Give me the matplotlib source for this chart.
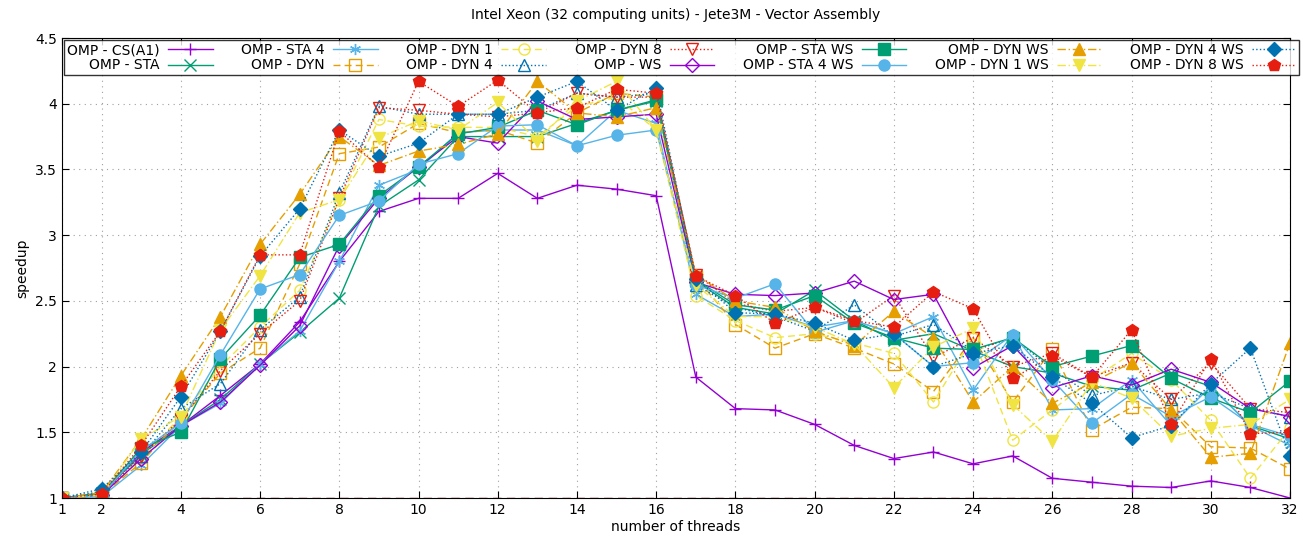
import matplotlib
matplotlib.use("Agg")
import matplotlib.pyplot as plt

threads = list(range(1, 33))

cs_a1 = [1.00, 1.02, 1.35, 1.55, 1.78, 2.02, 2.34, 2.80, 3.18, 3.28, 3.28, 3.47, 3.28, 3.38, 3.35, 3.30,
         1.92, 1.68, 1.67, 1.56, 1.40, 1.30, 1.35, 1.26, 1.32, 1.15, 1.12, 1.09, 1.08, 1.13, 1.08, 1.00]
sta = [1.00, 1.04, 1.33, 1.55, 1.75, 2.02, 2.26, 2.52, 3.22, 3.42, 3.75, 3.75, 3.75, 3.85, 3.95, 4.02,
       2.65, 2.45, 2.40, 2.58, 2.35, 2.20, 2.25, 2.12, 2.00, 1.95, 1.85, 1.82, 1.95, 1.85, 1.55, 1.45]
sta4 = [1.00, 1.01, 1.25, 1.55, 1.72, 2.02, 2.27, 2.80, 3.38, 3.50, 3.78, 3.80, 3.80, 3.68, 3.95, 3.85,
        2.55, 2.38, 2.40, 2.30, 2.35, 2.25, 2.38, 1.82, 2.25, 1.67, 1.68, 1.90, 1.55, 1.85, 1.55, 1.40]
dyn = [1.00, 1.02, 1.27, 1.60, 1.95, 2.14, 2.78, 3.62, 3.67, 3.85, 3.78, 3.80, 3.70, 3.93, 4.08, 4.05,
       2.68, 2.32, 2.14, 2.25, 2.14, 2.02, 1.81, 2.22, 1.73, 2.13, 1.52, 1.69, 1.68, 1.39, 1.38, 1.22]
dyn1 = [1.00, 1.02, 1.30, 1.62, 2.00, 2.30, 2.58, 3.27, 3.88, 3.83, 3.82, 3.82, 3.75, 3.98, 4.05, 3.80,
        2.54, 2.35, 2.22, 2.25, 2.18, 2.10, 1.73, 2.22, 1.44, 1.67, 1.90, 2.10, 1.90, 1.59, 1.15, 1.53]
dyn4 = [1.00, 1.05, 1.32, 1.68, 1.87, 2.28, 2.53, 3.32, 3.98, 3.92, 3.92, 3.92, 3.95, 4.08, 4.05, 4.08,
        2.62, 2.45, 2.38, 2.27, 2.47, 2.23, 2.32, 2.12, 2.22, 1.98, 1.78, 1.85, 1.75, 1.80, 1.68, 1.62]
dyn8 = [1.00, 1.02, 1.32, 1.60, 1.97, 2.25, 2.50, 3.28, 3.97, 3.95, 3.92, 3.90, 3.93, 4.08, 4.05, 4.05,
        2.70, 2.48, 2.42, 2.45, 2.33, 2.54, 2.07, 2.22, 2.00, 2.10, 1.92, 2.03, 1.75, 2.03, 1.68, 1.65]
ws = [1.00, 1.02, 1.30, 1.55, 1.73, 2.01, 2.31, 2.92, 3.28, 3.52, 3.75, 3.70, 4.02, 3.88, 3.90, 3.92,
      2.64, 2.55, 2.54, 2.56, 2.65, 2.51, 2.55, 1.99, 2.16, 1.84, 1.93, 1.86, 1.98, 1.88, 1.68, 1.62]
sta_ws = [1.00, 1.03, 1.38, 1.50, 2.06, 2.39, 2.83, 2.93, 3.30, 3.52, 3.77, 3.82, 3.95, 3.84, 3.95, 4.03,
          2.66, 2.47, 2.43, 2.54, 2.33, 2.22, 2.14, 2.13, 2.22, 2.00, 2.08, 2.16, 1.91, 1.76, 1.65, 1.89]
sta4_ws = [1.00, 1.02, 1.36, 1.57, 2.09, 2.59, 2.70, 3.15, 3.26, 3.54, 3.62, 3.83, 3.84, 3.68, 3.76, 3.80,
           2.62, 2.52, 2.63, 2.26, 2.35, 2.25, 2.00, 2.03, 2.24, 1.90, 1.57, 1.79, 1.62, 1.77, 1.56, 1.47]
dyn_ws = [1.00, 1.04, 1.45, 1.93, 2.38, 2.93, 3.31, 3.75, 3.53, 3.64, 3.69, 3.77, 4.17, 3.93, 3.90, 3.97,
          2.70, 2.50, 2.45, 2.27, 2.16, 2.42, 2.22, 1.73, 2.00, 1.72, 1.88, 2.03, 1.67, 1.31, 1.34, 2.18]
dyn1_ws = [1.00, 1.02, 1.45, 1.62, 2.28, 2.69, 3.17, 3.27, 3.74, 3.87, 3.80, 4.01, 3.72, 4.02, 4.17, 3.80,
           2.62, 2.38, 2.38, 2.30, 2.17, 1.84, 2.15, 2.29, 1.71, 1.43, 1.88, 1.76, 1.47, 1.53, 1.56, 1.75]
dyn4_ws = [1.00, 1.07, 1.35, 1.77, 2.27, 2.84, 3.20, 3.80, 3.60, 3.70, 3.92, 3.92, 4.05, 4.17, 3.95, 4.12,
           2.67, 2.41, 2.40, 2.33, 2.20, 2.25, 2.00, 2.10, 2.16, 1.92, 1.72, 1.46, 1.55, 1.87, 2.14, 1.32]
dyn8_ws = [1.00, 1.03, 1.40, 1.85, 2.27, 2.85, 2.85, 3.79, 3.52, 4.17, 3.98, 4.18, 3.93, 3.97, 4.11, 4.08,
           2.69, 2.54, 2.33, 2.45, 2.35, 2.30, 2.57, 2.44, 1.91, 2.08, 1.92, 2.28, 1.56, 2.06, 1.49, 1.50]

PURPLE, GREEN, LBLUE, ORANGE = "#9400d3", "#009e73", "#56b4e9", "#e69f00"
YELLOW, BLUE, RED = "#f0e442", "#0072b2", "#e51e10"
asterisk = (6, 2, 0)

# (label, values, colour, linestyle, marker, filled)
series = [
    ("OMP - CS(A1)", cs_a1, PURPLE, "-", "+", False),
    ("OMP - STA", sta, GREEN, "-", "x", False),
    ("OMP - STA 4", sta4, LBLUE, "-", asterisk, False),
    ("OMP - DYN", dyn, ORANGE, (0, (5, 3)), "s", False),
    ("OMP - DYN 1", dyn1, YELLOW, (0, (5, 3)), "o", False),
    ("OMP - DYN 4", dyn4, BLUE, ":", "^", False),
    ("OMP - DYN 8", dyn8, RED, ":", "v", False),
    ("OMP - WS", ws, PURPLE, "-", "D", False),
    ("OMP - STA WS", sta_ws, GREEN, "-", "s", True),
    ("OMP - STA 4 WS", sta4_ws, LBLUE, "-", "o", True),
    ("OMP - DYN WS", dyn_ws, ORANGE, (0, (6, 2, 1, 2)), "^", True),
    ("OMP - DYN 1 WS", dyn1_ws, YELLOW, (0, (6, 2, 1, 2)), "v", True),
    ("OMP - DYN 4 WS", dyn4_ws, BLUE, ":", "D", True),
    ("OMP - DYN 8 WS", dyn8_ws, RED, ":", "p", True),
]

fig = plt.figure(figsize=(13.03, 5.40), dpi=100)
ax = fig.add_axes([62 / 1303, 1 - 498 / 540, (1290 - 62) / 1303, (498 - 38) / 540])

for label, vals, color, ls, marker, filled in series:
    size = 7 if marker == "D" else 8
    if marker == "p":
        size = 9
    ax.plot(threads, vals, color=color, linestyle=ls, linewidth=1.0, marker=marker,
            markersize=size, markerfacecolor=color if filled else "none",
            markeredgecolor=color, markeredgewidth=1.0, label=label)

ax.axhline(1.0, color="#8b0000", linestyle=(0, (6, 4)), linewidth=1.0, zorder=0)

ax.set_xlim(1, 32)
ax.set_ylim(1, 4.5)
ax.set_xticks([1] + list(range(2, 33, 2)))
ax.set_yticks([1, 1.5, 2, 2.5, 3, 3.5, 4, 4.5])
ax.set_yticklabels(["1", "1.5", "2", "2.5", "3", "3.5", "4", "4.5"])
ax.tick_params(direction="in", top=True, right=True, labelsize=10, length=5)
ax.grid(True, linestyle=(0, (1, 4)), color="#a0a0a0", linewidth=0.8)
ax.set_xlabel("number of threads", fontsize=10, labelpad=2)
ax.set_ylabel("speedup", fontsize=10, labelpad=4)
ax.set_title("Intel Xeon (32 computing units) - Jete3M - Vector Assembly", fontsize=10, pad=14)

leg = ax.legend(ncol=7, loc="upper left", bbox_to_anchor=(0.002, 0.995, 1.0055, 0.0), mode="expand",
                markerfirst=False, fontsize=10, frameon=True, fancybox=False,
                borderpad=0.2, labelspacing=0.1, handlelength=3.2, handletextpad=0.6,
                columnspacing=1.0, borderaxespad=0)
leg.get_frame().set_edgecolor("black")
leg.get_frame().set_linewidth(1.0)
for t in leg.get_texts():
    t.set_ha("right")

fig.savefig("out.png", dpi=100)
